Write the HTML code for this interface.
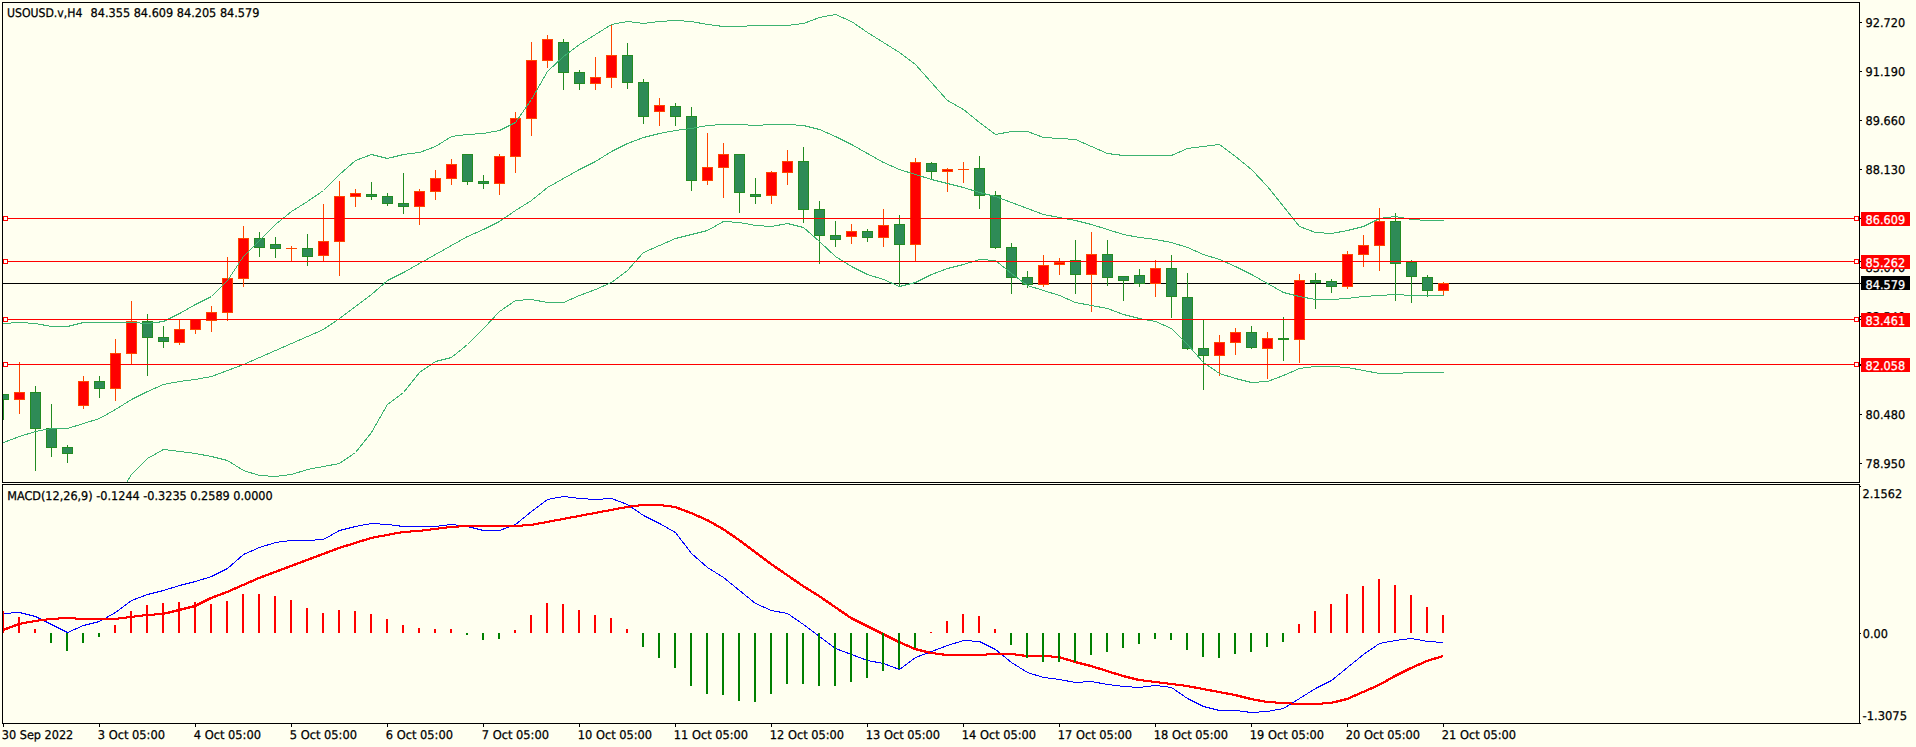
<!DOCTYPE html>
<html lang="en"><head><meta charset="utf-8"><title>USOUSD.v,H4</title>
<style>html,body{margin:0;padding:0;background:#FFFFF0;overflow:hidden}svg{display:block}text{text-rendering:geometricPrecision}</style>
</head><body>
<svg width="1916" height="747" viewBox="0 0 1916 747">
<defs><clipPath id="cm"><rect x="3" y="3" width="1856" height="479"/></clipPath><clipPath id="ci"><rect x="3" y="485" width="1856" height="238"/></clipPath></defs>
<rect width="1916" height="747" fill="#FFFFF0"/>
<g shape-rendering="crispEdges">
<g clip-path="url(#cm)">
<rect x="3" y="283" width="1856" height="1" fill="#000000"/>
<rect x="3" y="394" width="1" height="26" fill="#228B22"/>
<rect x="-2" y="394" width="11" height="6" fill="#228B22"/>
<rect x="-1" y="395" width="9" height="4" fill="#2E8B57"/>
<rect x="19" y="362" width="1" height="52" fill="#FF4500"/>
<rect x="14" y="392" width="11" height="8" fill="#FF4500"/>
<rect x="15" y="393" width="9" height="6" fill="#FF0000"/>
<rect x="35" y="386" width="1" height="85" fill="#228B22"/>
<rect x="30" y="392" width="11" height="37" fill="#228B22"/>
<rect x="31" y="393" width="9" height="35" fill="#2E8B57"/>
<rect x="51" y="404" width="1" height="53" fill="#228B22"/>
<rect x="46" y="428" width="11" height="20" fill="#228B22"/>
<rect x="47" y="429" width="9" height="18" fill="#2E8B57"/>
<rect x="67" y="445" width="1" height="18" fill="#228B22"/>
<rect x="62" y="447" width="11" height="7" fill="#228B22"/>
<rect x="63" y="448" width="9" height="5" fill="#2E8B57"/>
<rect x="83" y="376" width="1" height="33" fill="#FF4500"/>
<rect x="78" y="381" width="11" height="25" fill="#FF4500"/>
<rect x="79" y="382" width="9" height="23" fill="#FF0000"/>
<rect x="99" y="376" width="1" height="22" fill="#228B22"/>
<rect x="94" y="381" width="11" height="8" fill="#228B22"/>
<rect x="95" y="382" width="9" height="6" fill="#2E8B57"/>
<rect x="115" y="339" width="1" height="62" fill="#FF4500"/>
<rect x="110" y="353" width="11" height="36" fill="#FF4500"/>
<rect x="111" y="354" width="9" height="34" fill="#FF0000"/>
<rect x="131" y="301" width="1" height="63" fill="#FF4500"/>
<rect x="126" y="321" width="11" height="33" fill="#FF4500"/>
<rect x="127" y="322" width="9" height="31" fill="#FF0000"/>
<rect x="147" y="314" width="1" height="62" fill="#228B22"/>
<rect x="142" y="321" width="11" height="17" fill="#228B22"/>
<rect x="143" y="322" width="9" height="15" fill="#2E8B57"/>
<rect x="163" y="326" width="1" height="22" fill="#228B22"/>
<rect x="158" y="337" width="11" height="5" fill="#228B22"/>
<rect x="159" y="338" width="9" height="3" fill="#2E8B57"/>
<rect x="179" y="319" width="1" height="26" fill="#FF4500"/>
<rect x="174" y="329" width="11" height="14" fill="#FF4500"/>
<rect x="175" y="330" width="9" height="12" fill="#FF0000"/>
<rect x="195" y="319" width="1" height="15" fill="#FF4500"/>
<rect x="190" y="319" width="11" height="11" fill="#FF4500"/>
<rect x="191" y="320" width="9" height="9" fill="#FF0000"/>
<rect x="211" y="306" width="1" height="26" fill="#FF4500"/>
<rect x="206" y="312" width="11" height="9" fill="#FF4500"/>
<rect x="207" y="313" width="9" height="7" fill="#FF0000"/>
<rect x="227" y="257" width="1" height="64" fill="#FF4500"/>
<rect x="222" y="278" width="11" height="35" fill="#FF4500"/>
<rect x="223" y="279" width="9" height="33" fill="#FF0000"/>
<rect x="243" y="226" width="1" height="61" fill="#FF4500"/>
<rect x="238" y="238" width="11" height="41" fill="#FF4500"/>
<rect x="239" y="239" width="9" height="39" fill="#FF0000"/>
<rect x="259" y="232" width="1" height="25" fill="#228B22"/>
<rect x="254" y="238" width="11" height="10" fill="#228B22"/>
<rect x="255" y="239" width="9" height="8" fill="#2E8B57"/>
<rect x="275" y="237" width="1" height="21" fill="#228B22"/>
<rect x="270" y="244" width="11" height="5" fill="#228B22"/>
<rect x="271" y="245" width="9" height="3" fill="#2E8B57"/>
<rect x="291" y="246" width="1" height="15" fill="#FF4500"/>
<rect x="286" y="248" width="11" height="1" fill="#FF4500"/>
<rect x="307" y="234" width="1" height="32" fill="#228B22"/>
<rect x="302" y="248" width="11" height="9" fill="#228B22"/>
<rect x="303" y="249" width="9" height="7" fill="#2E8B57"/>
<rect x="323" y="204" width="1" height="57" fill="#FF4500"/>
<rect x="318" y="241" width="11" height="15" fill="#FF4500"/>
<rect x="319" y="242" width="9" height="13" fill="#FF0000"/>
<rect x="339" y="181" width="1" height="95" fill="#FF4500"/>
<rect x="334" y="196" width="11" height="46" fill="#FF4500"/>
<rect x="335" y="197" width="9" height="44" fill="#FF0000"/>
<rect x="355" y="189" width="1" height="18" fill="#FF4500"/>
<rect x="350" y="193" width="11" height="4" fill="#FF4500"/>
<rect x="351" y="194" width="9" height="2" fill="#FF0000"/>
<rect x="371" y="182" width="1" height="18" fill="#228B22"/>
<rect x="366" y="194" width="11" height="3" fill="#228B22"/>
<rect x="367" y="195" width="9" height="1" fill="#2E8B57"/>
<rect x="387" y="193" width="1" height="13" fill="#228B22"/>
<rect x="382" y="196" width="11" height="8" fill="#228B22"/>
<rect x="383" y="197" width="9" height="6" fill="#2E8B57"/>
<rect x="403" y="173" width="1" height="41" fill="#228B22"/>
<rect x="398" y="203" width="11" height="4" fill="#228B22"/>
<rect x="399" y="204" width="9" height="2" fill="#2E8B57"/>
<rect x="419" y="189" width="1" height="36" fill="#FF4500"/>
<rect x="414" y="191" width="11" height="16" fill="#FF4500"/>
<rect x="415" y="192" width="9" height="14" fill="#FF0000"/>
<rect x="435" y="170" width="1" height="30" fill="#FF4500"/>
<rect x="430" y="178" width="11" height="14" fill="#FF4500"/>
<rect x="431" y="179" width="9" height="12" fill="#FF0000"/>
<rect x="451" y="159" width="1" height="26" fill="#FF4500"/>
<rect x="446" y="164" width="11" height="15" fill="#FF4500"/>
<rect x="447" y="165" width="9" height="13" fill="#FF0000"/>
<rect x="467" y="154" width="1" height="31" fill="#228B22"/>
<rect x="462" y="154" width="11" height="28" fill="#228B22"/>
<rect x="463" y="155" width="9" height="26" fill="#2E8B57"/>
<rect x="483" y="175" width="1" height="14" fill="#228B22"/>
<rect x="478" y="181" width="11" height="3" fill="#228B22"/>
<rect x="479" y="182" width="9" height="1" fill="#2E8B57"/>
<rect x="499" y="154" width="1" height="41" fill="#FF4500"/>
<rect x="494" y="156" width="11" height="28" fill="#FF4500"/>
<rect x="495" y="157" width="9" height="26" fill="#FF0000"/>
<rect x="515" y="112" width="1" height="61" fill="#FF4500"/>
<rect x="510" y="118" width="11" height="39" fill="#FF4500"/>
<rect x="511" y="119" width="9" height="37" fill="#FF0000"/>
<rect x="531" y="42" width="1" height="94" fill="#FF4500"/>
<rect x="526" y="60" width="11" height="59" fill="#FF4500"/>
<rect x="527" y="61" width="9" height="57" fill="#FF0000"/>
<rect x="547" y="35" width="1" height="33" fill="#FF4500"/>
<rect x="542" y="39" width="11" height="22" fill="#FF4500"/>
<rect x="543" y="40" width="9" height="20" fill="#FF0000"/>
<rect x="563" y="39" width="1" height="51" fill="#228B22"/>
<rect x="558" y="42" width="11" height="31" fill="#228B22"/>
<rect x="559" y="43" width="9" height="29" fill="#2E8B57"/>
<rect x="579" y="70" width="1" height="20" fill="#228B22"/>
<rect x="574" y="72" width="11" height="12" fill="#228B22"/>
<rect x="575" y="73" width="9" height="10" fill="#2E8B57"/>
<rect x="595" y="57" width="1" height="33" fill="#FF4500"/>
<rect x="590" y="77" width="11" height="7" fill="#FF4500"/>
<rect x="591" y="78" width="9" height="5" fill="#FF0000"/>
<rect x="611" y="25" width="1" height="63" fill="#FF4500"/>
<rect x="606" y="55" width="11" height="23" fill="#FF4500"/>
<rect x="607" y="56" width="9" height="21" fill="#FF0000"/>
<rect x="627" y="43" width="1" height="46" fill="#228B22"/>
<rect x="622" y="55" width="11" height="28" fill="#228B22"/>
<rect x="623" y="56" width="9" height="26" fill="#2E8B57"/>
<rect x="643" y="79" width="1" height="45" fill="#228B22"/>
<rect x="638" y="82" width="11" height="35" fill="#228B22"/>
<rect x="639" y="83" width="9" height="33" fill="#2E8B57"/>
<rect x="659" y="98" width="1" height="28" fill="#FF4500"/>
<rect x="654" y="105" width="11" height="7" fill="#FF4500"/>
<rect x="655" y="106" width="9" height="5" fill="#FF0000"/>
<rect x="675" y="103" width="1" height="23" fill="#228B22"/>
<rect x="670" y="106" width="11" height="11" fill="#228B22"/>
<rect x="671" y="107" width="9" height="9" fill="#2E8B57"/>
<rect x="691" y="107" width="1" height="84" fill="#228B22"/>
<rect x="686" y="116" width="11" height="65" fill="#228B22"/>
<rect x="687" y="117" width="9" height="63" fill="#2E8B57"/>
<rect x="707" y="133" width="1" height="52" fill="#FF4500"/>
<rect x="702" y="167" width="11" height="14" fill="#FF4500"/>
<rect x="703" y="168" width="9" height="12" fill="#FF0000"/>
<rect x="723" y="143" width="1" height="55" fill="#FF4500"/>
<rect x="718" y="154" width="11" height="14" fill="#FF4500"/>
<rect x="719" y="155" width="9" height="12" fill="#FF0000"/>
<rect x="739" y="154" width="1" height="59" fill="#228B22"/>
<rect x="734" y="154" width="11" height="39" fill="#228B22"/>
<rect x="735" y="155" width="9" height="37" fill="#2E8B57"/>
<rect x="755" y="178" width="1" height="26" fill="#228B22"/>
<rect x="750" y="194" width="11" height="3" fill="#228B22"/>
<rect x="751" y="195" width="9" height="1" fill="#2E8B57"/>
<rect x="771" y="171" width="1" height="33" fill="#FF4500"/>
<rect x="766" y="172" width="11" height="24" fill="#FF4500"/>
<rect x="767" y="173" width="9" height="22" fill="#FF0000"/>
<rect x="787" y="150" width="1" height="35" fill="#FF4500"/>
<rect x="782" y="161" width="11" height="12" fill="#FF4500"/>
<rect x="783" y="162" width="9" height="10" fill="#FF0000"/>
<rect x="803" y="147" width="1" height="76" fill="#228B22"/>
<rect x="798" y="161" width="11" height="49" fill="#228B22"/>
<rect x="799" y="162" width="9" height="47" fill="#2E8B57"/>
<rect x="819" y="201" width="1" height="63" fill="#228B22"/>
<rect x="814" y="209" width="11" height="27" fill="#228B22"/>
<rect x="815" y="210" width="9" height="25" fill="#2E8B57"/>
<rect x="835" y="221" width="1" height="26" fill="#228B22"/>
<rect x="830" y="235" width="11" height="5" fill="#228B22"/>
<rect x="831" y="236" width="9" height="3" fill="#2E8B57"/>
<rect x="851" y="224" width="1" height="20" fill="#FF4500"/>
<rect x="846" y="231" width="11" height="6" fill="#FF4500"/>
<rect x="847" y="232" width="9" height="4" fill="#FF0000"/>
<rect x="867" y="229" width="1" height="13" fill="#228B22"/>
<rect x="862" y="231" width="11" height="7" fill="#228B22"/>
<rect x="863" y="232" width="9" height="5" fill="#2E8B57"/>
<rect x="883" y="209" width="1" height="38" fill="#FF4500"/>
<rect x="878" y="225" width="11" height="13" fill="#FF4500"/>
<rect x="879" y="226" width="9" height="11" fill="#FF0000"/>
<rect x="899" y="215" width="1" height="72" fill="#228B22"/>
<rect x="894" y="224" width="11" height="21" fill="#228B22"/>
<rect x="895" y="225" width="9" height="19" fill="#2E8B57"/>
<rect x="915" y="158" width="1" height="104" fill="#FF4500"/>
<rect x="910" y="162" width="11" height="83" fill="#FF4500"/>
<rect x="911" y="163" width="9" height="81" fill="#FF0000"/>
<rect x="931" y="162" width="1" height="17" fill="#228B22"/>
<rect x="926" y="163" width="11" height="9" fill="#228B22"/>
<rect x="927" y="164" width="9" height="7" fill="#2E8B57"/>
<rect x="947" y="168" width="1" height="24" fill="#FF4500"/>
<rect x="942" y="169" width="11" height="3" fill="#FF4500"/>
<rect x="943" y="170" width="9" height="1" fill="#FF0000"/>
<rect x="963" y="162" width="1" height="21" fill="#FF4500"/>
<rect x="958" y="169" width="11" height="1" fill="#FF4500"/>
<rect x="979" y="156" width="1" height="53" fill="#228B22"/>
<rect x="974" y="168" width="11" height="28" fill="#228B22"/>
<rect x="975" y="169" width="9" height="26" fill="#2E8B57"/>
<rect x="995" y="191" width="1" height="58" fill="#228B22"/>
<rect x="990" y="195" width="11" height="53" fill="#228B22"/>
<rect x="991" y="196" width="9" height="51" fill="#2E8B57"/>
<rect x="1011" y="243" width="1" height="51" fill="#228B22"/>
<rect x="1006" y="247" width="11" height="31" fill="#228B22"/>
<rect x="1007" y="248" width="9" height="29" fill="#2E8B57"/>
<rect x="1027" y="271" width="1" height="17" fill="#228B22"/>
<rect x="1022" y="277" width="11" height="8" fill="#228B22"/>
<rect x="1023" y="278" width="9" height="6" fill="#2E8B57"/>
<rect x="1043" y="255" width="1" height="32" fill="#FF4500"/>
<rect x="1038" y="265" width="11" height="20" fill="#FF4500"/>
<rect x="1039" y="266" width="9" height="18" fill="#FF0000"/>
<rect x="1059" y="258" width="1" height="17" fill="#FF4500"/>
<rect x="1054" y="262" width="11" height="3" fill="#FF4500"/>
<rect x="1055" y="263" width="9" height="1" fill="#FF0000"/>
<rect x="1075" y="240" width="1" height="54" fill="#228B22"/>
<rect x="1070" y="260" width="11" height="15" fill="#228B22"/>
<rect x="1071" y="261" width="9" height="13" fill="#2E8B57"/>
<rect x="1091" y="232" width="1" height="80" fill="#FF4500"/>
<rect x="1086" y="254" width="11" height="21" fill="#FF4500"/>
<rect x="1087" y="255" width="9" height="19" fill="#FF0000"/>
<rect x="1107" y="240" width="1" height="46" fill="#228B22"/>
<rect x="1102" y="254" width="11" height="24" fill="#228B22"/>
<rect x="1103" y="255" width="9" height="22" fill="#2E8B57"/>
<rect x="1123" y="276" width="1" height="25" fill="#228B22"/>
<rect x="1118" y="276" width="11" height="5" fill="#228B22"/>
<rect x="1119" y="277" width="9" height="3" fill="#2E8B57"/>
<rect x="1139" y="269" width="1" height="18" fill="#228B22"/>
<rect x="1134" y="275" width="11" height="9" fill="#228B22"/>
<rect x="1135" y="276" width="9" height="7" fill="#2E8B57"/>
<rect x="1155" y="260" width="1" height="37" fill="#FF4500"/>
<rect x="1150" y="268" width="11" height="16" fill="#FF4500"/>
<rect x="1151" y="269" width="9" height="14" fill="#FF0000"/>
<rect x="1171" y="255" width="1" height="63" fill="#228B22"/>
<rect x="1166" y="268" width="11" height="29" fill="#228B22"/>
<rect x="1167" y="269" width="9" height="27" fill="#2E8B57"/>
<rect x="1187" y="273" width="1" height="77" fill="#228B22"/>
<rect x="1182" y="297" width="11" height="52" fill="#228B22"/>
<rect x="1183" y="298" width="9" height="50" fill="#2E8B57"/>
<rect x="1203" y="320" width="1" height="70" fill="#228B22"/>
<rect x="1198" y="348" width="11" height="8" fill="#228B22"/>
<rect x="1199" y="349" width="9" height="6" fill="#2E8B57"/>
<rect x="1219" y="335" width="1" height="41" fill="#FF4500"/>
<rect x="1214" y="342" width="11" height="14" fill="#FF4500"/>
<rect x="1215" y="343" width="9" height="12" fill="#FF0000"/>
<rect x="1235" y="328" width="1" height="27" fill="#FF4500"/>
<rect x="1230" y="332" width="11" height="11" fill="#FF4500"/>
<rect x="1231" y="333" width="9" height="9" fill="#FF0000"/>
<rect x="1251" y="326" width="1" height="23" fill="#228B22"/>
<rect x="1246" y="332" width="11" height="16" fill="#228B22"/>
<rect x="1247" y="333" width="9" height="14" fill="#2E8B57"/>
<rect x="1267" y="332" width="1" height="47" fill="#FF4500"/>
<rect x="1262" y="338" width="11" height="11" fill="#FF4500"/>
<rect x="1263" y="339" width="9" height="9" fill="#FF0000"/>
<rect x="1283" y="317" width="1" height="44" fill="#228B22"/>
<rect x="1278" y="338" width="11" height="2" fill="#228B22"/>
<rect x="1299" y="274" width="1" height="89" fill="#FF4500"/>
<rect x="1294" y="280" width="11" height="60" fill="#FF4500"/>
<rect x="1295" y="281" width="9" height="58" fill="#FF0000"/>
<rect x="1315" y="273" width="1" height="36" fill="#228B22"/>
<rect x="1310" y="280" width="11" height="3" fill="#228B22"/>
<rect x="1311" y="281" width="9" height="1" fill="#2E8B57"/>
<rect x="1331" y="279" width="1" height="14" fill="#228B22"/>
<rect x="1326" y="281" width="11" height="6" fill="#228B22"/>
<rect x="1327" y="282" width="9" height="4" fill="#2E8B57"/>
<rect x="1347" y="251" width="1" height="38" fill="#FF4500"/>
<rect x="1342" y="254" width="11" height="33" fill="#FF4500"/>
<rect x="1343" y="255" width="9" height="31" fill="#FF0000"/>
<rect x="1363" y="235" width="1" height="32" fill="#FF4500"/>
<rect x="1358" y="245" width="11" height="10" fill="#FF4500"/>
<rect x="1359" y="246" width="9" height="8" fill="#FF0000"/>
<rect x="1379" y="208" width="1" height="63" fill="#FF4500"/>
<rect x="1374" y="221" width="11" height="25" fill="#FF4500"/>
<rect x="1375" y="222" width="9" height="23" fill="#FF0000"/>
<rect x="1395" y="213" width="1" height="88" fill="#228B22"/>
<rect x="1390" y="221" width="11" height="43" fill="#228B22"/>
<rect x="1391" y="222" width="9" height="41" fill="#2E8B57"/>
<rect x="1411" y="260" width="1" height="43" fill="#228B22"/>
<rect x="1406" y="262" width="11" height="15" fill="#228B22"/>
<rect x="1407" y="263" width="9" height="13" fill="#2E8B57"/>
<rect x="1427" y="275" width="1" height="22" fill="#228B22"/>
<rect x="1422" y="277" width="11" height="14" fill="#228B22"/>
<rect x="1423" y="278" width="9" height="12" fill="#2E8B57"/>
<rect x="1443" y="282" width="1" height="14" fill="#FF4500"/>
<rect x="1438" y="283" width="11" height="8" fill="#FF4500"/>
<rect x="1439" y="284" width="9" height="6" fill="#FF0000"/>
<polyline points="3.5,323.5 19.5,322.5 35.5,323.5 51.5,326.5 67.5,326.5 83.5,322.5 99.5,322.5 115.5,322.5 131.5,322.5 147.5,323.5 163.5,321.5 179.5,313.5 195.5,304.5 211.5,296.5 227.5,280.5 243.5,256.5 259.5,240.5 275.5,224.5 291.5,211.5 307.5,201.5 323.5,190.5 339.5,174.5 355.5,160.5 371.5,154.5 387.5,158.5 403.5,154.5 419.5,152.5 435.5,146.5 451.5,136.5 467.5,134.5 483.5,133.5 499.5,130.5 515.5,122.5 531.5,99.5 547.5,71.5 563.5,56.5 579.5,44.5 595.5,34.5 611.5,24.5 627.5,21.5 643.5,23.5 659.5,21.5 675.5,20.5 691.5,21.5 707.5,24.5 723.5,26.5 739.5,26.5 755.5,25.5 771.5,25.5 787.5,25.5 803.5,23.5 819.5,17.5 835.5,14.5 851.5,21.5 867.5,32.5 883.5,42.5 899.5,52.5 915.5,64.5 931.5,82.5 947.5,100.5 963.5,109.5 979.5,122.5 995.5,134.5 1011.5,131.5 1027.5,131.5 1043.5,137.5 1059.5,138.5 1075.5,139.5 1091.5,146.5 1107.5,153.5 1123.5,155.5 1139.5,155.5 1155.5,155.5 1171.5,155.5 1187.5,148.5 1203.5,146.5 1219.5,144.5 1235.5,156.5 1251.5,169.5 1267.5,186.5 1283.5,206.5 1299.5,226.5 1315.5,232.5 1331.5,233.5 1347.5,230.5 1363.5,226.5 1379.5,218.5 1395.5,216.5 1411.5,219.5 1427.5,220.5 1443.5,220.5" fill="none" stroke="#3CB371" stroke-width="1"/>
<polyline points="3.5,442.5 19.5,436.5 35.5,431.5 51.5,428.5 67.5,428.5 83.5,423.5 99.5,418.5 115.5,409.5 131.5,399.5 147.5,391.5 163.5,384.5 179.5,381.5 195.5,379.5 211.5,376.5 227.5,370.5 243.5,364.5 259.5,357.5 275.5,350.5 291.5,343.5 307.5,336.5 323.5,329.5 339.5,318.5 355.5,306.5 371.5,294.5 387.5,280.5 403.5,272.5 419.5,263.5 435.5,254.5 451.5,245.5 467.5,236.5 483.5,229.5 499.5,221.5 515.5,210.5 531.5,200.5 547.5,187.5 563.5,178.5 579.5,169.5 595.5,161.5 611.5,151.5 627.5,143.5 643.5,137.5 659.5,133.5 675.5,130.5 691.5,128.5 707.5,125.5 723.5,124.5 739.5,124.5 755.5,125.5 771.5,124.5 787.5,124.5 803.5,125.5 819.5,129.5 835.5,136.5 851.5,144.5 867.5,153.5 883.5,162.5 899.5,169.5 915.5,174.5 931.5,179.5 947.5,183.5 963.5,187.5 979.5,192.5 995.5,196.5 1011.5,202.5 1027.5,208.5 1043.5,214.5 1059.5,217.5 1075.5,220.5 1091.5,224.5 1107.5,229.5 1123.5,234.5 1139.5,237.5 1155.5,239.5 1171.5,242.5 1187.5,247.5 1203.5,254.5 1219.5,259.5 1235.5,266.5 1251.5,274.5 1267.5,283.5 1283.5,292.5 1299.5,296.5 1315.5,299.5 1331.5,299.5 1347.5,298.5 1363.5,296.5 1379.5,295.5 1395.5,294.5 1411.5,295.5 1427.5,295.5 1443.5,295.5" fill="none" stroke="#3CB371" stroke-width="1"/>
<polyline points="115.5,500.5 131.5,474.5 147.5,458.5 163.5,449.5 179.5,451.5 195.5,453.5 211.5,456.5 227.5,460.5 243.5,470.5 259.5,475.5 275.5,476.5 291.5,474.5 307.5,469.5 323.5,466.5 339.5,463.5 355.5,452.5 371.5,432.5 387.5,404.5 403.5,392.5 419.5,372.5 435.5,361.5 451.5,357.5 467.5,344.5 483.5,328.5 499.5,311.5 515.5,300.5 531.5,299.5 547.5,302.5 563.5,302.5 579.5,295.5 595.5,289.5 611.5,282.5 627.5,270.5 643.5,252.5 659.5,245.5 675.5,238.5 691.5,234.5 707.5,230.5 723.5,221.5 739.5,222.5 755.5,225.5 771.5,226.5 787.5,223.5 803.5,227.5 819.5,241.5 835.5,256.5 851.5,266.5 867.5,274.5 883.5,279.5 899.5,286.5 915.5,282.5 931.5,274.5 947.5,268.5 963.5,264.5 979.5,259.5 995.5,260.5 1011.5,273.5 1027.5,285.5 1043.5,290.5 1059.5,295.5 1075.5,302.5 1091.5,305.5 1107.5,308.5 1123.5,314.5 1139.5,318.5 1155.5,321.5 1171.5,328.5 1187.5,344.5 1203.5,362.5 1219.5,373.5 1235.5,378.5 1251.5,382.5 1267.5,381.5 1283.5,375.5 1299.5,368.5 1315.5,366.5 1331.5,366.5 1347.5,367.5 1363.5,370.5 1379.5,373.5 1395.5,373.5 1411.5,372.5 1427.5,372.5 1443.5,372.5" fill="none" stroke="#3CB371" stroke-width="1"/>
<rect x="3" y="218" width="1856" height="1" fill="#FF0000"/>
<rect x="3" y="216" width="5" height="5" fill="#FF0000"/>
<rect x="4" y="217" width="3" height="3" fill="#FFFFFF"/>
<rect x="1854" y="216" width="5" height="5" fill="#FF0000"/>
<rect x="1855" y="217" width="3" height="3" fill="#FFFFFF"/>
<rect x="3" y="261" width="1856" height="1" fill="#FF0000"/>
<rect x="3" y="259" width="5" height="5" fill="#FF0000"/>
<rect x="4" y="260" width="3" height="3" fill="#FFFFFF"/>
<rect x="1854" y="259" width="5" height="5" fill="#FF0000"/>
<rect x="1855" y="260" width="3" height="3" fill="#FFFFFF"/>
<rect x="3" y="319" width="1856" height="1" fill="#FF0000"/>
<rect x="3" y="317" width="5" height="5" fill="#FF0000"/>
<rect x="4" y="318" width="3" height="3" fill="#FFFFFF"/>
<rect x="1854" y="317" width="5" height="5" fill="#FF0000"/>
<rect x="1855" y="318" width="3" height="3" fill="#FFFFFF"/>
<rect x="3" y="364" width="1856" height="1" fill="#FF0000"/>
<rect x="3" y="362" width="5" height="5" fill="#FF0000"/>
<rect x="4" y="363" width="3" height="3" fill="#FFFFFF"/>
<rect x="1854" y="362" width="5" height="5" fill="#FF0000"/>
<rect x="1855" y="363" width="3" height="3" fill="#FFFFFF"/>
</g>
<g clip-path="url(#ci)">
<polyline points="3.5,613.5 19.5,612.5 35.5,616.5 51.5,624.5 67.5,632.5 83.5,625.5 99.5,621.5 115.5,612.5 131.5,600.5 147.5,594.5 163.5,590.5 179.5,585.5 195.5,581.5 211.5,576.5 227.5,568.5 243.5,554.5 259.5,547.5 275.5,542.5 291.5,540.5 307.5,540.5 323.5,539.5 339.5,530.5 355.5,526.5 371.5,523.5 387.5,524.5 403.5,526.5 419.5,526.5 435.5,526.5 451.5,524.5 467.5,526.5 483.5,530.5 499.5,530.5 515.5,524.5 531.5,511.5 547.5,499.5 563.5,496.5 579.5,498.5 595.5,499.5 611.5,498.5 627.5,504.5 643.5,515.5 659.5,523.5 675.5,532.5 691.5,553.5 707.5,567.5 723.5,577.5 739.5,590.5 755.5,603.5 771.5,610.5 787.5,613.5 803.5,624.5 819.5,636.5 835.5,648.5 851.5,654.5 867.5,660.5 883.5,663.5 899.5,669.5 915.5,657.5 931.5,651.5 947.5,645.5 963.5,640.5 979.5,641.5 995.5,649.5 1011.5,662.5 1027.5,672.5 1043.5,677.5 1059.5,679.5 1075.5,682.5 1091.5,681.5 1107.5,684.5 1123.5,686.5 1139.5,687.5 1155.5,685.5 1171.5,687.5 1187.5,698.5 1203.5,706.5 1219.5,710.5 1235.5,710.5 1251.5,712.5 1267.5,711.5 1283.5,708.5 1299.5,698.5 1315.5,688.5 1331.5,680.5 1347.5,667.5 1363.5,654.5 1379.5,643.5 1395.5,640.5 1411.5,638.5 1427.5,641.5 1443.5,642.5" fill="none" stroke="#0000FF" stroke-width="1"/>
<polyline points="3.5,630.5 19.5,624.5 35.5,621.5 51.5,619.5 67.5,618.5 83.5,619.5 99.5,619.5 115.5,619.5 131.5,617.5 147.5,615.5 163.5,614.5 179.5,610.5 195.5,606.5 211.5,598.5 227.5,592.5 243.5,585.5 259.5,578.5 275.5,572.5 291.5,566.5 307.5,560.5 323.5,554.5 339.5,548.5 355.5,543.5 371.5,538.5 387.5,535.5 403.5,532.5 419.5,531.5 435.5,529.5 451.5,527.5 467.5,526.5 483.5,526.5 499.5,526.5 515.5,526.5 531.5,525.5 547.5,522.5 563.5,519.5 579.5,516.5 595.5,513.5 611.5,510.5 627.5,507.5 643.5,505.5 659.5,505.5 675.5,507.5 691.5,513.5 707.5,520.5 723.5,529.5 739.5,540.5 755.5,552.5 771.5,564.5 787.5,575.5 803.5,586.5 819.5,596.5 835.5,607.5 851.5,618.5 867.5,626.5 883.5,634.5 899.5,642.5 915.5,649.5 931.5,653.5 947.5,655.5 963.5,655.5 979.5,655.5 995.5,654.5 1011.5,654.5 1027.5,656.5 1043.5,656.5 1059.5,657.5 1075.5,662.5 1091.5,666.5 1107.5,671.5 1123.5,676.5 1139.5,680.5 1155.5,682.5 1171.5,684.5 1187.5,686.5 1203.5,689.5 1219.5,692.5 1235.5,695.5 1251.5,699.5 1267.5,702.5 1283.5,703.5 1299.5,704.5 1315.5,704.5 1331.5,703.5 1347.5,699.5 1363.5,692.5 1379.5,685.5 1395.5,676.5 1411.5,668.5 1427.5,661.5 1443.5,656.5" fill="none" stroke="#FF0000" stroke-width="1"/>
<polyline points="2.5,630.5 18.5,624.5 34.5,621.5 50.5,619.5 66.5,618.5 82.5,619.5 98.5,619.5 114.5,619.5 130.5,617.5 146.5,615.5 162.5,614.5 178.5,610.5 194.5,606.5 210.5,598.5 226.5,592.5 242.5,585.5 258.5,578.5 274.5,572.5 290.5,566.5 306.5,560.5 322.5,554.5 338.5,548.5 354.5,543.5 370.5,538.5 386.5,535.5 402.5,532.5 418.5,531.5 434.5,529.5 450.5,527.5 466.5,526.5 482.5,526.5 498.5,526.5 514.5,526.5 530.5,525.5 546.5,522.5 562.5,519.5 578.5,516.5 594.5,513.5 610.5,510.5 626.5,507.5 642.5,505.5 658.5,505.5 674.5,507.5 690.5,513.5 706.5,520.5 722.5,529.5 738.5,540.5 754.5,552.5 770.5,564.5 786.5,575.5 802.5,586.5 818.5,596.5 834.5,607.5 850.5,618.5 866.5,626.5 882.5,634.5 898.5,642.5 914.5,649.5 930.5,653.5 946.5,655.5 962.5,655.5 978.5,655.5 994.5,654.5 1010.5,654.5 1026.5,656.5 1042.5,656.5 1058.5,657.5 1074.5,662.5 1090.5,666.5 1106.5,671.5 1122.5,676.5 1138.5,680.5 1154.5,682.5 1170.5,684.5 1186.5,686.5 1202.5,689.5 1218.5,692.5 1234.5,695.5 1250.5,699.5 1266.5,702.5 1282.5,703.5 1298.5,704.5 1314.5,704.5 1330.5,703.5 1346.5,699.5 1362.5,692.5 1378.5,685.5 1394.5,676.5 1410.5,668.5 1426.5,661.5 1442.5,656.5" fill="none" stroke="#FF0000" stroke-width="1"/>
<polyline points="3.5,629.5 19.5,623.5 35.5,620.5 51.5,618.5 67.5,617.5 83.5,618.5 99.5,618.5 115.5,618.5 131.5,616.5 147.5,614.5 163.5,613.5 179.5,609.5 195.5,605.5 211.5,597.5 227.5,591.5 243.5,584.5 259.5,577.5 275.5,571.5 291.5,565.5 307.5,559.5 323.5,553.5 339.5,547.5 355.5,542.5 371.5,537.5 387.5,534.5 403.5,531.5 419.5,530.5 435.5,528.5 451.5,526.5 467.5,525.5 483.5,525.5 499.5,525.5 515.5,525.5 531.5,524.5 547.5,521.5 563.5,518.5 579.5,515.5 595.5,512.5 611.5,509.5 627.5,506.5 643.5,504.5 659.5,504.5 675.5,506.5 691.5,512.5 707.5,519.5 723.5,528.5 739.5,539.5 755.5,551.5 771.5,563.5 787.5,574.5 803.5,585.5 819.5,595.5 835.5,606.5 851.5,617.5 867.5,625.5 883.5,633.5 899.5,641.5 915.5,648.5 931.5,652.5 947.5,654.5 963.5,654.5 979.5,654.5 995.5,653.5 1011.5,653.5 1027.5,655.5 1043.5,655.5 1059.5,656.5 1075.5,661.5 1091.5,665.5 1107.5,670.5 1123.5,675.5 1139.5,679.5 1155.5,681.5 1171.5,683.5 1187.5,685.5 1203.5,688.5 1219.5,691.5 1235.5,694.5 1251.5,698.5 1267.5,701.5 1283.5,702.5 1299.5,703.5 1315.5,703.5 1331.5,702.5 1347.5,698.5 1363.5,691.5 1379.5,684.5 1395.5,675.5 1411.5,667.5 1427.5,660.5 1443.5,655.5" fill="none" stroke="#FF0000" stroke-width="1"/>
<polyline points="2.5,629.5 18.5,623.5 34.5,620.5 50.5,618.5 66.5,617.5 82.5,618.5 98.5,618.5 114.5,618.5 130.5,616.5 146.5,614.5 162.5,613.5 178.5,609.5 194.5,605.5 210.5,597.5 226.5,591.5 242.5,584.5 258.5,577.5 274.5,571.5 290.5,565.5 306.5,559.5 322.5,553.5 338.5,547.5 354.5,542.5 370.5,537.5 386.5,534.5 402.5,531.5 418.5,530.5 434.5,528.5 450.5,526.5 466.5,525.5 482.5,525.5 498.5,525.5 514.5,525.5 530.5,524.5 546.5,521.5 562.5,518.5 578.5,515.5 594.5,512.5 610.5,509.5 626.5,506.5 642.5,504.5 658.5,504.5 674.5,506.5 690.5,512.5 706.5,519.5 722.5,528.5 738.5,539.5 754.5,551.5 770.5,563.5 786.5,574.5 802.5,585.5 818.5,595.5 834.5,606.5 850.5,617.5 866.5,625.5 882.5,633.5 898.5,641.5 914.5,648.5 930.5,652.5 946.5,654.5 962.5,654.5 978.5,654.5 994.5,653.5 1010.5,653.5 1026.5,655.5 1042.5,655.5 1058.5,656.5 1074.5,661.5 1090.5,665.5 1106.5,670.5 1122.5,675.5 1138.5,679.5 1154.5,681.5 1170.5,683.5 1186.5,685.5 1202.5,688.5 1218.5,691.5 1234.5,694.5 1250.5,698.5 1266.5,701.5 1282.5,702.5 1298.5,703.5 1314.5,703.5 1330.5,702.5 1346.5,698.5 1362.5,691.5 1378.5,684.5 1394.5,675.5 1410.5,667.5 1426.5,660.5 1442.5,655.5" fill="none" stroke="#FF0000" stroke-width="1"/>
<rect x="2" y="611" width="2" height="22" fill="#FF0000"/>
<rect x="18" y="617" width="2" height="16" fill="#FF0000"/>
<rect x="34" y="629" width="2" height="4" fill="#FF0000"/>
<rect x="50" y="633" width="2" height="10" fill="#008000"/>
<rect x="66" y="633" width="2" height="18" fill="#008000"/>
<rect x="82" y="633" width="2" height="10" fill="#008000"/>
<rect x="98" y="633" width="2" height="4" fill="#008000"/>
<rect x="114" y="625" width="2" height="8" fill="#FF0000"/>
<rect x="130" y="611" width="2" height="22" fill="#FF0000"/>
<rect x="146" y="605" width="2" height="28" fill="#FF0000"/>
<rect x="162" y="603" width="2" height="30" fill="#FF0000"/>
<rect x="178" y="602" width="2" height="31" fill="#FF0000"/>
<rect x="194" y="602" width="2" height="31" fill="#FF0000"/>
<rect x="210" y="604" width="2" height="29" fill="#FF0000"/>
<rect x="226" y="601" width="2" height="32" fill="#FF0000"/>
<rect x="242" y="594" width="2" height="39" fill="#FF0000"/>
<rect x="258" y="594" width="2" height="39" fill="#FF0000"/>
<rect x="274" y="596" width="2" height="37" fill="#FF0000"/>
<rect x="290" y="600" width="2" height="33" fill="#FF0000"/>
<rect x="306" y="608" width="2" height="25" fill="#FF0000"/>
<rect x="322" y="613" width="2" height="20" fill="#FF0000"/>
<rect x="338" y="610" width="2" height="23" fill="#FF0000"/>
<rect x="354" y="611" width="2" height="22" fill="#FF0000"/>
<rect x="370" y="614" width="2" height="19" fill="#FF0000"/>
<rect x="386" y="619" width="2" height="14" fill="#FF0000"/>
<rect x="402" y="625" width="2" height="8" fill="#FF0000"/>
<rect x="418" y="628" width="2" height="5" fill="#FF0000"/>
<rect x="434" y="629" width="2" height="4" fill="#FF0000"/>
<rect x="450" y="629" width="2" height="4" fill="#FF0000"/>
<rect x="466" y="633" width="2" height="2" fill="#008000"/>
<rect x="482" y="633" width="2" height="7" fill="#008000"/>
<rect x="498" y="633" width="2" height="6" fill="#008000"/>
<rect x="514" y="630" width="2" height="3" fill="#FF0000"/>
<rect x="530" y="615" width="2" height="18" fill="#FF0000"/>
<rect x="546" y="603" width="2" height="30" fill="#FF0000"/>
<rect x="562" y="604" width="2" height="29" fill="#FF0000"/>
<rect x="578" y="610" width="2" height="23" fill="#FF0000"/>
<rect x="594" y="615" width="2" height="18" fill="#FF0000"/>
<rect x="610" y="618" width="2" height="15" fill="#FF0000"/>
<rect x="626" y="629" width="2" height="4" fill="#FF0000"/>
<rect x="642" y="633" width="2" height="14" fill="#008000"/>
<rect x="658" y="633" width="2" height="25" fill="#008000"/>
<rect x="674" y="633" width="2" height="35" fill="#008000"/>
<rect x="690" y="633" width="2" height="53" fill="#008000"/>
<rect x="706" y="633" width="2" height="61" fill="#008000"/>
<rect x="722" y="633" width="2" height="62" fill="#008000"/>
<rect x="738" y="633" width="2" height="68" fill="#008000"/>
<rect x="754" y="633" width="2" height="69" fill="#008000"/>
<rect x="770" y="633" width="2" height="61" fill="#008000"/>
<rect x="786" y="633" width="2" height="51" fill="#008000"/>
<rect x="802" y="633" width="2" height="51" fill="#008000"/>
<rect x="818" y="633" width="2" height="53" fill="#008000"/>
<rect x="834" y="633" width="2" height="53" fill="#008000"/>
<rect x="850" y="633" width="2" height="49" fill="#008000"/>
<rect x="866" y="633" width="2" height="45" fill="#008000"/>
<rect x="882" y="633" width="2" height="38" fill="#008000"/>
<rect x="898" y="633" width="2" height="36" fill="#008000"/>
<rect x="914" y="633" width="2" height="15" fill="#008000"/>
<rect x="930" y="632" width="2" height="1" fill="#FF0000"/>
<rect x="946" y="621" width="2" height="12" fill="#FF0000"/>
<rect x="962" y="614" width="2" height="19" fill="#FF0000"/>
<rect x="978" y="616" width="2" height="17" fill="#FF0000"/>
<rect x="994" y="629" width="2" height="4" fill="#FF0000"/>
<rect x="1010" y="633" width="2" height="12" fill="#008000"/>
<rect x="1026" y="633" width="2" height="25" fill="#008000"/>
<rect x="1042" y="633" width="2" height="29" fill="#008000"/>
<rect x="1058" y="633" width="2" height="29" fill="#008000"/>
<rect x="1074" y="633" width="2" height="29" fill="#008000"/>
<rect x="1090" y="633" width="2" height="22" fill="#008000"/>
<rect x="1106" y="633" width="2" height="19" fill="#008000"/>
<rect x="1122" y="633" width="2" height="15" fill="#008000"/>
<rect x="1138" y="633" width="2" height="11" fill="#008000"/>
<rect x="1154" y="633" width="2" height="6" fill="#008000"/>
<rect x="1170" y="633" width="2" height="7" fill="#008000"/>
<rect x="1186" y="633" width="2" height="17" fill="#008000"/>
<rect x="1202" y="633" width="2" height="24" fill="#008000"/>
<rect x="1218" y="633" width="2" height="25" fill="#008000"/>
<rect x="1234" y="633" width="2" height="21" fill="#008000"/>
<rect x="1250" y="633" width="2" height="19" fill="#008000"/>
<rect x="1266" y="633" width="2" height="14" fill="#008000"/>
<rect x="1282" y="633" width="2" height="9" fill="#008000"/>
<rect x="1298" y="624" width="2" height="9" fill="#FF0000"/>
<rect x="1314" y="611" width="2" height="22" fill="#FF0000"/>
<rect x="1330" y="604" width="2" height="29" fill="#FF0000"/>
<rect x="1346" y="594" width="2" height="39" fill="#FF0000"/>
<rect x="1362" y="586" width="2" height="47" fill="#FF0000"/>
<rect x="1378" y="579" width="2" height="54" fill="#FF0000"/>
<rect x="1394" y="585" width="2" height="48" fill="#FF0000"/>
<rect x="1410" y="595" width="2" height="38" fill="#FF0000"/>
<rect x="1426" y="607" width="2" height="26" fill="#FF0000"/>
<rect x="1442" y="615" width="2" height="18" fill="#FF0000"/>
</g>
<rect x="2" y="2" width="1858" height="1" fill="#000"/>
<rect x="2" y="2" width="1" height="481" fill="#000"/>
<rect x="2" y="482" width="1858" height="1" fill="#000"/>
<rect x="1859" y="2" width="1" height="481" fill="#000"/>
<rect x="2" y="484" width="1858" height="1" fill="#000"/>
<rect x="2" y="484" width="1" height="240" fill="#000"/>
<rect x="2" y="723" width="1858" height="1" fill="#000"/>
<rect x="1859" y="484" width="1" height="240" fill="#000"/>
<rect x="1860" y="22" width="2" height="1" fill="#000"/>
<rect x="1860" y="71" width="2" height="1" fill="#000"/>
<rect x="1860" y="120" width="2" height="1" fill="#000"/>
<rect x="1860" y="169" width="2" height="1" fill="#000"/>
<rect x="1860" y="218" width="2" height="1" fill="#000"/>
<rect x="1860" y="267" width="2" height="1" fill="#000"/>
<rect x="1860" y="316" width="2" height="1" fill="#000"/>
<rect x="1860" y="365" width="2" height="1" fill="#000"/>
<rect x="1860" y="414" width="2" height="1" fill="#000"/>
<rect x="1860" y="463" width="2" height="1" fill="#000"/>
<rect x="1860" y="218" width="2" height="1" fill="#000"/>
<rect x="1860" y="261" width="2" height="1" fill="#000"/>
<rect x="1860" y="283" width="2" height="1" fill="#000"/>
<rect x="1860" y="319" width="2" height="1" fill="#000"/>
<rect x="1860" y="364" width="2" height="1" fill="#000"/>
<rect x="1860" y="486" width="1" height="1" fill="#000"/>
<rect x="1860" y="633" width="1" height="1" fill="#000"/>
<rect x="1860" y="723" width="1" height="1" fill="#000"/>
<rect x="3" y="724" width="1" height="3" fill="#000"/>
<rect x="99" y="724" width="1" height="3" fill="#000"/>
<rect x="195" y="724" width="1" height="3" fill="#000"/>
<rect x="291" y="724" width="1" height="3" fill="#000"/>
<rect x="387" y="724" width="1" height="3" fill="#000"/>
<rect x="483" y="724" width="1" height="3" fill="#000"/>
<rect x="579" y="724" width="1" height="3" fill="#000"/>
<rect x="675" y="724" width="1" height="3" fill="#000"/>
<rect x="771" y="724" width="1" height="3" fill="#000"/>
<rect x="867" y="724" width="1" height="3" fill="#000"/>
<rect x="963" y="724" width="1" height="3" fill="#000"/>
<rect x="1059" y="724" width="1" height="3" fill="#000"/>
<rect x="1155" y="724" width="1" height="3" fill="#000"/>
<rect x="1251" y="724" width="1" height="3" fill="#000"/>
<rect x="1347" y="724" width="1" height="3" fill="#000"/>
<rect x="1443" y="724" width="1" height="3" fill="#000"/>
</g>
<text x="7.0" y="17" font-family='"DejaVu Sans Condensed","DejaVu Sans","Liberation Sans",sans-serif' font-size="12" fill="#000" stroke="#000" stroke-width="0.25" textLength="75.4" lengthAdjust="spacingAndGlyphs" xml:space="preserve">USOUSD.v,H4</text>
<text x="90.6" y="17" font-family='"DejaVu Sans Condensed","DejaVu Sans","Liberation Sans",sans-serif' font-size="12" fill="#000" stroke="#000" stroke-width="0.25" textLength="168.8" lengthAdjust="spacingAndGlyphs" xml:space="preserve">84.355 84.609 84.205 84.579</text>
<text x="7.2" y="500" font-family='"DejaVu Sans Condensed","DejaVu Sans","Liberation Sans",sans-serif' font-size="12" fill="#000" stroke="#000" stroke-width="0.25" textLength="265.5" lengthAdjust="spacingAndGlyphs" xml:space="preserve">MACD(12,26,9) -0.1244 -0.3235 0.2589 0.0000</text>
<text x="1865.6" y="27" font-family='"DejaVu Sans Condensed","DejaVu Sans","Liberation Sans",sans-serif' font-size="12" fill="#000" stroke="#000" stroke-width="0.25" textLength="39.5" lengthAdjust="spacingAndGlyphs" xml:space="preserve">92.720</text>
<text x="1865.6" y="76" font-family='"DejaVu Sans Condensed","DejaVu Sans","Liberation Sans",sans-serif' font-size="12" fill="#000" stroke="#000" stroke-width="0.25" textLength="39.5" lengthAdjust="spacingAndGlyphs" xml:space="preserve">91.190</text>
<text x="1865.6" y="125" font-family='"DejaVu Sans Condensed","DejaVu Sans","Liberation Sans",sans-serif' font-size="12" fill="#000" stroke="#000" stroke-width="0.25" textLength="39.5" lengthAdjust="spacingAndGlyphs" xml:space="preserve">89.660</text>
<text x="1865.6" y="174" font-family='"DejaVu Sans Condensed","DejaVu Sans","Liberation Sans",sans-serif' font-size="12" fill="#000" stroke="#000" stroke-width="0.25" textLength="39.5" lengthAdjust="spacingAndGlyphs" xml:space="preserve">88.130</text>
<text x="1865.6" y="223" font-family='"DejaVu Sans Condensed","DejaVu Sans","Liberation Sans",sans-serif' font-size="12" fill="#000" stroke="#000" stroke-width="0.25" textLength="39.5" lengthAdjust="spacingAndGlyphs" xml:space="preserve">86.600</text>
<text x="1865.6" y="272" font-family='"DejaVu Sans Condensed","DejaVu Sans","Liberation Sans",sans-serif' font-size="12" fill="#000" stroke="#000" stroke-width="0.25" textLength="39.5" lengthAdjust="spacingAndGlyphs" xml:space="preserve">85.070</text>
<text x="1865.6" y="321" font-family='"DejaVu Sans Condensed","DejaVu Sans","Liberation Sans",sans-serif' font-size="12" fill="#000" stroke="#000" stroke-width="0.25" textLength="39.5" lengthAdjust="spacingAndGlyphs" xml:space="preserve">83.540</text>
<text x="1865.6" y="370" font-family='"DejaVu Sans Condensed","DejaVu Sans","Liberation Sans",sans-serif' font-size="12" fill="#000" stroke="#000" stroke-width="0.25" textLength="39.5" lengthAdjust="spacingAndGlyphs" xml:space="preserve">82.010</text>
<text x="1865.6" y="419" font-family='"DejaVu Sans Condensed","DejaVu Sans","Liberation Sans",sans-serif' font-size="12" fill="#000" stroke="#000" stroke-width="0.25" textLength="39.5" lengthAdjust="spacingAndGlyphs" xml:space="preserve">80.480</text>
<text x="1865.6" y="468" font-family='"DejaVu Sans Condensed","DejaVu Sans","Liberation Sans",sans-serif' font-size="12" fill="#000" stroke="#000" stroke-width="0.25" textLength="39.5" lengthAdjust="spacingAndGlyphs" xml:space="preserve">78.950</text>
<g shape-rendering="crispEdges">
<rect x="1861" y="212" width="49" height="14" fill="#FF0000"/>
<rect x="1861" y="255" width="49" height="14" fill="#FF0000"/>
<rect x="1861" y="313" width="49" height="14" fill="#FF0000"/>
<rect x="1861" y="358" width="49" height="14" fill="#FF0000"/>
<rect x="1861" y="276" width="49" height="14" fill="#000000"/>
</g>
<text x="1865.6" y="224" font-family='"DejaVu Sans Condensed","DejaVu Sans","Liberation Sans",sans-serif' font-size="12" fill="#FFFFFF" stroke="#FFFFFF" stroke-width="0.25" textLength="39.5" lengthAdjust="spacingAndGlyphs" xml:space="preserve">86.609</text>
<text x="1865.6" y="267" font-family='"DejaVu Sans Condensed","DejaVu Sans","Liberation Sans",sans-serif' font-size="12" fill="#FFFFFF" stroke="#FFFFFF" stroke-width="0.25" textLength="39.5" lengthAdjust="spacingAndGlyphs" xml:space="preserve">85.262</text>
<text x="1865.6" y="325" font-family='"DejaVu Sans Condensed","DejaVu Sans","Liberation Sans",sans-serif' font-size="12" fill="#FFFFFF" stroke="#FFFFFF" stroke-width="0.25" textLength="39.5" lengthAdjust="spacingAndGlyphs" xml:space="preserve">83.461</text>
<text x="1865.6" y="370" font-family='"DejaVu Sans Condensed","DejaVu Sans","Liberation Sans",sans-serif' font-size="12" fill="#FFFFFF" stroke="#FFFFFF" stroke-width="0.25" textLength="39.5" lengthAdjust="spacingAndGlyphs" xml:space="preserve">82.058</text>
<text x="1865.6" y="289" font-family='"DejaVu Sans Condensed","DejaVu Sans","Liberation Sans",sans-serif' font-size="12" fill="#FFFFFF" stroke="#FFFFFF" stroke-width="0.25" textLength="39.5" lengthAdjust="spacingAndGlyphs" xml:space="preserve">84.579</text>
<text x="1862.6" y="498" font-family='"DejaVu Sans Condensed","DejaVu Sans","Liberation Sans",sans-serif' font-size="12" fill="#000" stroke="#000" stroke-width="0.25" textLength="39.5" lengthAdjust="spacingAndGlyphs" xml:space="preserve">2.1562</text>
<text x="1862.8" y="638" font-family='"DejaVu Sans Condensed","DejaVu Sans","Liberation Sans",sans-serif' font-size="12" fill="#000" stroke="#000" stroke-width="0.25" textLength="25" lengthAdjust="spacingAndGlyphs" xml:space="preserve">0.00</text>
<text x="1862.5" y="720" font-family='"DejaVu Sans Condensed","DejaVu Sans","Liberation Sans",sans-serif' font-size="12" fill="#000" stroke="#000" stroke-width="0.25" textLength="44.5" lengthAdjust="spacingAndGlyphs" xml:space="preserve">-1.3075</text>
<text x="1.8" y="739" font-family='"DejaVu Sans Condensed","DejaVu Sans","Liberation Sans",sans-serif' font-size="12" fill="#000" stroke="#000" stroke-width="0.25" textLength="71.5" lengthAdjust="spacingAndGlyphs" xml:space="preserve">30 Sep 2022</text>
<text x="97.8" y="739" font-family='"DejaVu Sans Condensed","DejaVu Sans","Liberation Sans",sans-serif' font-size="12" fill="#000" stroke="#000" stroke-width="0.25" textLength="67.2" lengthAdjust="spacingAndGlyphs" xml:space="preserve">3 Oct 05:00</text>
<text x="193.8" y="739" font-family='"DejaVu Sans Condensed","DejaVu Sans","Liberation Sans",sans-serif' font-size="12" fill="#000" stroke="#000" stroke-width="0.25" textLength="67.2" lengthAdjust="spacingAndGlyphs" xml:space="preserve">4 Oct 05:00</text>
<text x="289.8" y="739" font-family='"DejaVu Sans Condensed","DejaVu Sans","Liberation Sans",sans-serif' font-size="12" fill="#000" stroke="#000" stroke-width="0.25" textLength="67.2" lengthAdjust="spacingAndGlyphs" xml:space="preserve">5 Oct 05:00</text>
<text x="385.8" y="739" font-family='"DejaVu Sans Condensed","DejaVu Sans","Liberation Sans",sans-serif' font-size="12" fill="#000" stroke="#000" stroke-width="0.25" textLength="67.2" lengthAdjust="spacingAndGlyphs" xml:space="preserve">6 Oct 05:00</text>
<text x="481.8" y="739" font-family='"DejaVu Sans Condensed","DejaVu Sans","Liberation Sans",sans-serif' font-size="12" fill="#000" stroke="#000" stroke-width="0.25" textLength="67.2" lengthAdjust="spacingAndGlyphs" xml:space="preserve">7 Oct 05:00</text>
<text x="577.8" y="739" font-family='"DejaVu Sans Condensed","DejaVu Sans","Liberation Sans",sans-serif' font-size="12" fill="#000" stroke="#000" stroke-width="0.25" textLength="74.3" lengthAdjust="spacingAndGlyphs" xml:space="preserve">10 Oct 05:00</text>
<text x="673.8" y="739" font-family='"DejaVu Sans Condensed","DejaVu Sans","Liberation Sans",sans-serif' font-size="12" fill="#000" stroke="#000" stroke-width="0.25" textLength="74.3" lengthAdjust="spacingAndGlyphs" xml:space="preserve">11 Oct 05:00</text>
<text x="769.8" y="739" font-family='"DejaVu Sans Condensed","DejaVu Sans","Liberation Sans",sans-serif' font-size="12" fill="#000" stroke="#000" stroke-width="0.25" textLength="74.3" lengthAdjust="spacingAndGlyphs" xml:space="preserve">12 Oct 05:00</text>
<text x="865.8" y="739" font-family='"DejaVu Sans Condensed","DejaVu Sans","Liberation Sans",sans-serif' font-size="12" fill="#000" stroke="#000" stroke-width="0.25" textLength="74.3" lengthAdjust="spacingAndGlyphs" xml:space="preserve">13 Oct 05:00</text>
<text x="961.8" y="739" font-family='"DejaVu Sans Condensed","DejaVu Sans","Liberation Sans",sans-serif' font-size="12" fill="#000" stroke="#000" stroke-width="0.25" textLength="74.3" lengthAdjust="spacingAndGlyphs" xml:space="preserve">14 Oct 05:00</text>
<text x="1057.8" y="739" font-family='"DejaVu Sans Condensed","DejaVu Sans","Liberation Sans",sans-serif' font-size="12" fill="#000" stroke="#000" stroke-width="0.25" textLength="74.3" lengthAdjust="spacingAndGlyphs" xml:space="preserve">17 Oct 05:00</text>
<text x="1153.8" y="739" font-family='"DejaVu Sans Condensed","DejaVu Sans","Liberation Sans",sans-serif' font-size="12" fill="#000" stroke="#000" stroke-width="0.25" textLength="74.3" lengthAdjust="spacingAndGlyphs" xml:space="preserve">18 Oct 05:00</text>
<text x="1249.8" y="739" font-family='"DejaVu Sans Condensed","DejaVu Sans","Liberation Sans",sans-serif' font-size="12" fill="#000" stroke="#000" stroke-width="0.25" textLength="74.3" lengthAdjust="spacingAndGlyphs" xml:space="preserve">19 Oct 05:00</text>
<text x="1345.8" y="739" font-family='"DejaVu Sans Condensed","DejaVu Sans","Liberation Sans",sans-serif' font-size="12" fill="#000" stroke="#000" stroke-width="0.25" textLength="74.3" lengthAdjust="spacingAndGlyphs" xml:space="preserve">20 Oct 05:00</text>
<text x="1441.8" y="739" font-family='"DejaVu Sans Condensed","DejaVu Sans","Liberation Sans",sans-serif' font-size="12" fill="#000" stroke="#000" stroke-width="0.25" textLength="74.3" lengthAdjust="spacingAndGlyphs" xml:space="preserve">21 Oct 05:00</text>
</svg>
</body></html>
